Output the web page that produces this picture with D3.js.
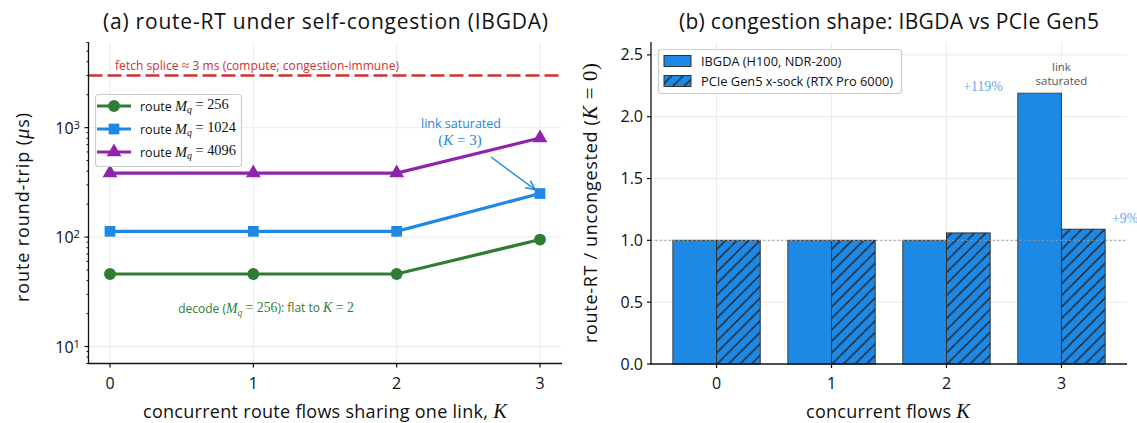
<!DOCTYPE html>
<html>
<head>
<meta charset="utf-8">
<script src="https://cdn.jsdelivr.net/npm/d3@7"></script>
<style>
  body { margin: 0; background: #fff; }
  svg text { font-family: "Open Sans", Lato, sans-serif; fill: #111; }
</style>
</head>
<body>
<svg id="fig" width="1137" height="423"></svg>
<script>
// ---- data ----
var flowsK = [0, 1, 2, 3];
var mqValues = [256, 1024, 4096];
var rtMq256 = [46, 46, 46, 95];
var rtMq1024 = [113, 113, 113, 250];
var rtMq4096 = [385, 385, 385, 805];
var fetchSpliceUs = 3000;
var ibgdaRatio = [1.0, 1.0, 1.0, 2.19];
var pcieRatio = [1.0, 1.0, 1.06, 1.09];
var logMajor = [10, 100, 1000];
var ratioTicks = [0.0, 0.5, 1.0, 1.5, 2.0, 2.5];

var SERIF = '"Liberation Serif", "DejaVu Serif", serif';
var green = "#2e7d32", blue = "#1e88e5", purple = "#8e24aa", red = "#d32f2f";
var EQ = "\u2005=\u2005";

var svg = d3.select("#fig");
svg.append("rect").attr("width", 1137).attr("height", 423).attr("fill", "#fff");

// rich text: parts = [{t, m (math italic), r (math roman), sub, sup}], len = stretch to width
function rich(g, x, y, parts, size, color, anchor, len) {
    var t = g.append("text")
        .attr("x", x).attr("y", y)
        .attr("font-size", size)
        .attr("text-anchor", anchor || "start")
        .style("fill", color || "#111");
    parts.forEach(function (p) {
        var s = t.append("tspan").text(p.t);
        if (p.m) s.style("font-family", SERIF).style("font-style", "italic").attr("font-size", size * 1.15);
        if (p.r) s.style("font-family", SERIF).attr("font-size", size * 1.15);
        if (p.sub) s.attr("dy", "0.3em").attr("font-size", size * 0.78);
        if (p.sup) s.attr("dy", "-0.45em").attr("font-size", size * 0.7);
        if (p.back) s.attr("dy", p.back);
    });
    if (len) t.attr("textLength", len).attr("lengthAdjust", "spacing");
    return t;
}

// ================= panel (a) =================
var xa = d3.scaleLinear().domain([-0.15, 3.15]).range([88.5, 561.5]);
var ya = d3.scaleLog().domain([7, 6000]).range([363.5, 42.5]);
var ga = svg.append("g");

// grid
ga.selectAll(".gx").data(flowsK).enter().append("line")
    .attr("x1", function (d) { return xa(d); }).attr("x2", function (d) { return xa(d); })
    .attr("y1", ya(6000)).attr("y2", ya(7))
    .attr("stroke", "#ebebeb").attr("stroke-width", 1);
ga.selectAll(".gy").data(logMajor).enter().append("line")
    .attr("x1", xa(-0.15)).attr("x2", xa(3.15))
    .attr("y1", function (d) { return ya(d); }).attr("y2", function (d) { return ya(d); })
    .attr("stroke", "#ebebeb").attr("stroke-width", 1);

// fetch splice reference
ga.append("line")
    .attr("x1", xa(-0.15)).attr("x2", xa(3.15))
    .attr("y1", ya(fetchSpliceUs)).attr("y2", ya(fetchSpliceUs))
    .attr("stroke", red).attr("stroke-width", 2.4).attr("stroke-dasharray", "14,5");
rich(ga, 115, 70, [{t: "fetch splice "}, {t: "≈", r: true}, {t: " 3 ms (compute; congestion-immune)"}], 12, red, "start", 284);

// series
var seriesA = [
    {vals: rtMq256, color: green, sym: d3.symbolCircle, size: 110},
    {vals: rtMq1024, color: blue, sym: d3.symbolSquare, size: 115},
    {vals: rtMq4096, color: purple, sym: d3.symbolTriangle, size: 95}
];
var lineA = d3.line()
    .x(function (d, i) { return xa(flowsK[i]); })
    .y(function (d) { return ya(d); });
seriesA.forEach(function (s) {
    ga.append("path").attr("d", lineA(s.vals))
        .attr("fill", "none").attr("stroke", s.color).attr("stroke-width", 3.2);
    ga.selectAll(null).data(s.vals).enter().append("path")
        .attr("d", d3.symbol().type(s.sym).size(s.size))
        .attr("transform", function (d, i) { return "translate(" + xa(flowsK[i]) + "," + ya(d) + ")"; })
        .attr("fill", s.color);
});

// annotation: link saturated
rich(ga, 461, 128, [{t: "link saturated"}], 12.5, blue, "middle");
rich(ga, 460, 145, [{t: "(", r: true}, {t: "K", m: true}, {t: EQ + "3)", r: true}], 13, blue, "middle");
svg.append("defs").append("marker")
    .attr("id", "arr").attr("viewBox", "0 0 10 10").attr("refX", 9).attr("refY", 5)
    .attr("markerWidth", 8).attr("markerHeight", 8).attr("orient", "auto")
    .append("path").attr("d", "M1,1 L9,5 L1,9").attr("fill", "none").attr("stroke", blue).attr("stroke-width", 1.3);
ga.append("line")
    .attr("x1", 491).attr("y1", 157).attr("x2", xa(3) - 5).attr("y2", ya(rtMq1024[3]) - 4)
    .attr("stroke", blue).attr("stroke-width", 1.4).attr("marker-end", "url(#arr)");

rich(ga, 266, 313, [{t: "decode ("}, {t: "M", m: true}, {t: "q", m: true, sub: true},
    {t: EQ + "256", r: true, back: "-0.3em"}, {t: "): flat to "}, {t: "K", m: true}, {t: EQ + "2", r: true}], 12, green, "middle");

// legend (a)
var la = ga.append("g");
la.append("rect").attr("x", 95.5).attr("y", 94.5).attr("width", 146).attr("height", 72).attr("rx", 3)
    .attr("fill", "#fff").attr("fill-opacity", 0.85).attr("stroke", "#cccccc").attr("stroke-width", 1.2);
seriesA.forEach(function (s, i) {
    var yy = 106 + i * 23;
    la.append("line").attr("x1", 97).attr("x2", 131).attr("y1", yy).attr("y2", yy)
        .attr("stroke", s.color).attr("stroke-width", 3.2);
    la.append("path").attr("d", d3.symbol().type(s.sym).size(s.size)())
        .attr("transform", "translate(114," + yy + ")").attr("fill", s.color);
    rich(la, 140, yy + 4.5, [{t: "route "}, {t: "M", m: true}, {t: "q", m: true, sub: true},
        {t: EQ + mqValues[i], r: true, back: "-0.3em"}], 12.5, "#111");
});

// axes (a)
ga.append("line").attr("x1", 88.5).attr("x2", 88.5).attr("y1", 42).attr("y2", 364)
    .attr("stroke", "#111").attr("stroke-width", 1.3);
ga.append("line").attr("x1", 88).attr("x2", 562).attr("y1", 363.5).attr("y2", 363.5)
    .attr("stroke", "#111").attr("stroke-width", 1.3);
var minors = [];
[1, 10, 100, 1000].forEach(function (dec) {
    for (var m = 2; m <= 9; m++) {
        var v = dec * m;
        if (v >= 7 && v <= 6000) minors.push(v);
    }
});
ga.selectAll(".mn").data(minors).enter().append("line")
    .attr("x1", 86.5).attr("x2", 88.5)
    .attr("y1", function (d) { return ya(d); }).attr("y2", function (d) { return ya(d); })
    .attr("stroke", "#111").attr("stroke-width", 1);
ga.selectAll(".mj").data(logMajor).enter().append("line")
    .attr("x1", 84.5).attr("x2", 88.5)
    .attr("y1", function (d) { return ya(d); }).attr("y2", function (d) { return ya(d); })
    .attr("stroke", "#111").attr("stroke-width", 1.2);
logMajor.forEach(function (d) {
    rich(ga, 80, ya(d) + 6, [{t: "10"}, {t: String(Math.round(Math.log10(d))), sup: true}], 16, "#111", "end");
});
ga.selectAll(".xt").data(flowsK).enter().append("line")
    .attr("x1", function (d) { return xa(d); }).attr("x2", function (d) { return xa(d); })
    .attr("y1", 363.5).attr("y2", 367.5).attr("stroke", "#111").attr("stroke-width", 1.2);
ga.selectAll(".xl").data(flowsK).enter().append("text")
    .attr("x", function (d) { return xa(d); }).attr("y", 389)
    .attr("text-anchor", "middle").attr("font-size", 16).text(function (d) { return d; });

rich(ga, 325, 418, [{t: "concurrent route flows sharing one link, "}, {t: "K", m: true}], 18, "#111", "middle", 364);
rich(ga.append("g").attr("transform", "translate(29,207.5) rotate(-90)"), 0, 0,
    [{t: "route round-trip ("}, {t: "μ", m: true}, {t: "s)"}], 18, "#111", "middle", 189);
rich(ga, 325.5, 29, [{t: "(a) route-RT under self-congestion (IBGDA)"}], 21, "#111", "middle", 445);

// ================= panel (b) =================
var xb = d3.scaleLinear().domain([-0.57, 3.57]).range([651, 1127]);
var yb = d3.scaleLinear().domain([0, 2.6]).range([364, 42.5]);
var gb = svg.append("g");
var barW = xb(0.38) - xb(0);

var pat = svg.select("defs").append("pattern")
    .attr("id", "hatch").attr("patternUnits", "userSpaceOnUse")
    .attr("width", 11.5).attr("height", 11.5);
pat.append("rect").attr("width", 11.5).attr("height", 11.5).attr("fill", blue);
pat.append("path").attr("d", "M-3,3 L3,-3 M0,11.5 L11.5,0 M8.5,14.5 L14.5,8.5")
    .attr("stroke", "#222").attr("stroke-width", 1.4);

gb.selectAll(".gx").data(flowsK).enter().append("line")
    .attr("x1", function (d) { return xb(d); }).attr("x2", function (d) { return xb(d); })
    .attr("y1", yb(2.6)).attr("y2", yb(0))
    .attr("stroke", "#ebebeb").attr("stroke-width", 1);
gb.selectAll(".gy").data(ratioTicks.slice(1)).enter().append("line")
    .attr("x1", xb(-0.57)).attr("x2", xb(3.57))
    .attr("y1", function (d) { return yb(d); }).attr("y2", function (d) { return yb(d); })
    .attr("stroke", "#ebebeb").attr("stroke-width", 1);

gb.selectAll(".bi").data(ibgdaRatio).enter().append("rect")
    .attr("x", function (d, i) { return xb(flowsK[i]) - barW; })
    .attr("y", function (d) { return yb(d); })
    .attr("width", barW).attr("height", function (d) { return yb(0) - yb(d); })
    .attr("fill", blue).attr("stroke", "#444").attr("stroke-width", 1);
gb.selectAll(".bp").data(pcieRatio).enter().append("rect")
    .attr("x", function (d, i) { return xb(flowsK[i]); })
    .attr("y", function (d) { return yb(d); })
    .attr("width", barW).attr("height", function (d) { return yb(0) - yb(d); })
    .attr("fill", "url(#hatch)").attr("stroke", "#333").attr("stroke-width", 1);

gb.append("line").attr("x1", xb(-0.57)).attr("x2", xb(3.57)).attr("y1", yb(1)).attr("y2", yb(1))
    .attr("stroke", "#999").attr("stroke-width", 1.4).attr("stroke-dasharray", "1.5,3");

rich(gb, 983, 91, [{t: "+119%", r: true}], 12, "#5fa8ec", "middle");
rich(gb, 1112, 223, [{t: "+9%", r: true}], 12, "#5fa8ec", "start");
rich(gb, xb(3), 70.5, [{t: "link"}], 11.5, "#555", "middle");
rich(gb, xb(3), 84.5, [{t: "saturated"}], 11.5, "#555", "middle");

// legend (b)
var lb = gb.append("g");
lb.append("rect").attr("x", 658.5).attr("y", 49.5).attr("width", 243).attr("height", 44).attr("rx", 3)
    .attr("fill", "#fff").attr("fill-opacity", 0.85).attr("stroke", "#cccccc").attr("stroke-width", 1.2);
var legB = [{lab: "IBGDA (H100, NDR-200)", fill: blue}, {lab: "PCIe Gen5 x-sock (RTX Pro 6000)", fill: "url(#hatch)"}];
legB.forEach(function (e, i) {
    var yy = 61 + i * 20;
    lb.append("rect").attr("x", 664).attr("y", yy - 5.5).attr("width", 27).attr("height", 11)
        .attr("fill", e.fill).attr("stroke", "#333").attr("stroke-width", 1);
    rich(lb, 701, yy + 4.5, [{t: e.lab}], 12.8, "#111");
});

// axes (b)
gb.append("line").attr("x1", 651).attr("x2", 651).attr("y1", 42).attr("y2", 364.5)
    .attr("stroke", "#111").attr("stroke-width", 1.3);
gb.append("line").attr("x1", 650.5).attr("x2", 1127).attr("y1", 364).attr("y2", 364)
    .attr("stroke", "#111").attr("stroke-width", 1.3);
gb.selectAll(".yt").data(ratioTicks).enter().append("line")
    .attr("x1", 647).attr("x2", 651)
    .attr("y1", function (d) { return yb(d); }).attr("y2", function (d) { return yb(d); })
    .attr("stroke", "#111").attr("stroke-width", 1.2);
gb.selectAll(".yl").data(ratioTicks).enter().append("text")
    .attr("x", 643).attr("y", function (d) { return yb(d) + 5.5; })
    .attr("text-anchor", "end").attr("font-size", 16).text(function (d) { return d.toFixed(1); });
gb.selectAll(".xt").data(flowsK).enter().append("line")
    .attr("x1", function (d) { return xb(d); }).attr("x2", function (d) { return xb(d); })
    .attr("y1", 364).attr("y2", 368).attr("stroke", "#111").attr("stroke-width", 1.2);
gb.selectAll(".xl").data(flowsK).enter().append("text")
    .attr("x", function (d) { return xb(d); }).attr("y", 389)
    .attr("text-anchor", "middle").attr("font-size", 16).text(function (d) { return d; });

rich(gb, 888, 418, [{t: "concurrent flows "}, {t: "K", m: true}], 18, "#111", "middle", 164);
rich(gb.append("g").attr("transform", "translate(597,203) rotate(-90)"), 0, 0,
    [{t: "route-RT / uncongested ("}, {t: "K", m: true}, {t: EQ + "0)", r: true}], 18, "#111", "middle", 280);
rich(gb, 889, 29, [{t: "(b) congestion shape: IBGDA vs PCIe Gen5"}], 21, "#111", "middle", 420);
</script>
</body>
</html>
